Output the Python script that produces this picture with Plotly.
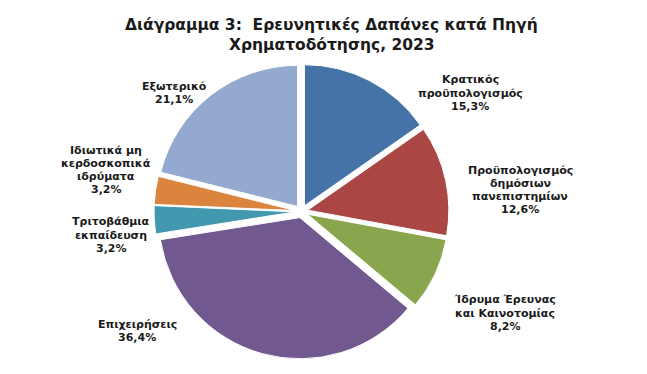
import plotly.graph_objects as go

labels = [
    "Κρατικός<br>προϋπολογισμός",
    "Προϋπολογισμός<br>δημόσιων<br>πανεπιστημίων",
    "Ίδρυμα Έρευνας<br>και Καινοτομίας",
    "Επιχειρήσεις",
    "Τριτοβάθμια<br>εκπαίδευση",
    "Ιδιωτικά μη<br>κερδοσκοπικά<br>ιδρύματα",
    "Εξωτερικό",
]
values = [15.3, 12.6, 8.2, 36.4, 3.2, 3.2, 21.1]
colors = ["#4572A7", "#AA4643", "#89A54E", "#71588F", "#4198AF", "#DB843D", "#93A9CF"]
title_lines = ["Διάγραμμα 3:  Ερευνητικές Δαπάνες κατά Πηγή", "Χρηματοδότησης, 2023"]

# label centres in pixel coordinates (layout only)
label_pos = [
    (462, 85), (512, 182), (497, 305), (129, 323), (103, 227), (98, 162), (166, 85)
]

W, H = 647, 374
FONT = "DejaVu Sans"
LINE = 13.3

fig = go.Figure(go.Pie(
    labels=[l.replace("<br>", " ") for l in labels],
    values=values,
    sort=False,
    direction="clockwise",
    rotation=0,
    pull=[0.045] * len(values),
    marker=dict(colors=colors, line=dict(color="white", width=1)),
    textinfo="none",
    hoverinfo="label+percent",
    domain=dict(x=[146 / W, 441 / W], y=[23 / H, 318 / H]),
    showlegend=False,
))

annotations = []
for lab, v, (px, py) in zip(labels, values, label_pos):
    lines = lab.split("<br>") + [f"{v:.1f}".replace(".", ",") + "%"]
    n = len(lines)
    for i, ln in enumerate(lines):
        yy = py + (i - (n - 1) / 2) * LINE
        annotations.append(dict(
            x=px / W, y=1 - yy / H, xref="paper", yref="paper",
            text="<b>" + ln + "</b>", showarrow=False, xanchor="center", yanchor="middle",
            align="center", font=dict(family=FONT, size=11, color="#1a1a1a"),
        ))

for i, ln in enumerate(title_lines):
    annotations.append(dict(
        x=0.5, y=1 - (17 + 20 * i) / H, xref="paper", yref="paper",
        text="<b>" + ln + "</b>",
        showarrow=False, xanchor="center", yanchor="middle", align="center",
        font=dict(family=FONT, size=15.5, color="#1a1a1a"),
    ))

fig.update_layout(
    width=W, height=H,
    margin=dict(l=0, r=0, t=0, b=0),
    paper_bgcolor="white",
    plot_bgcolor="white",
    annotations=annotations,
)

fig.write_html("out.html")
